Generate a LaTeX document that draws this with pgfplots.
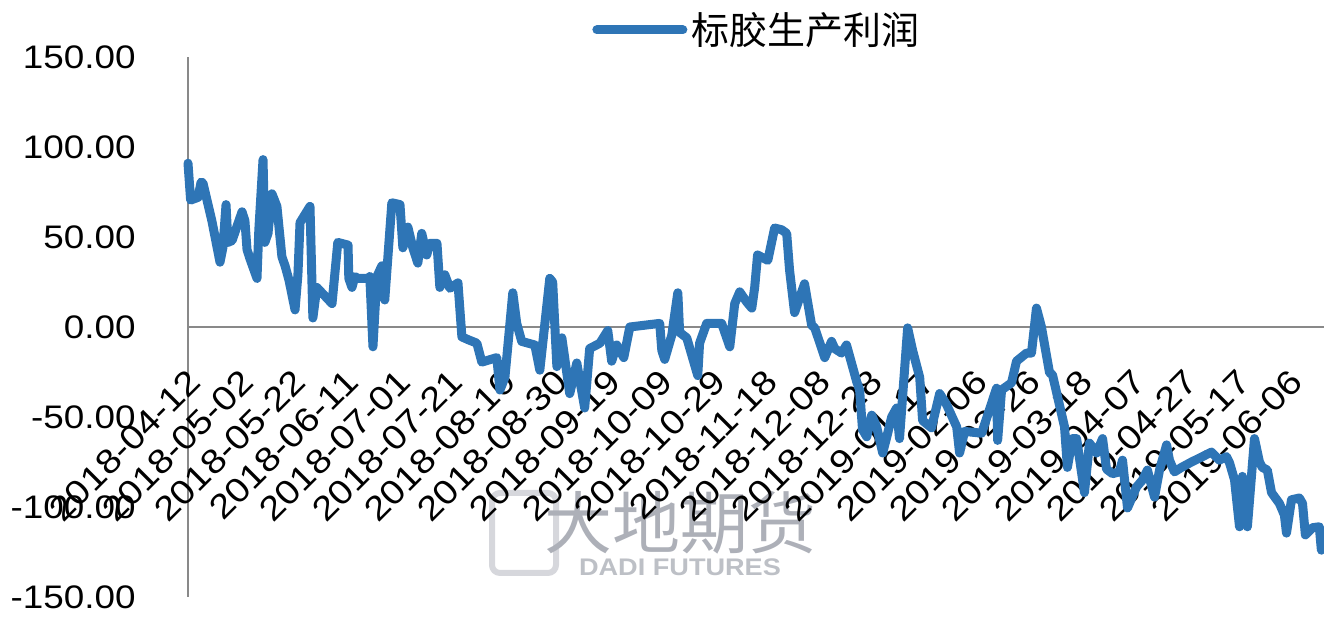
\documentclass[border=0pt]{standalone}
\usepackage{pgfplots}
\pgfplotsset{compat=1.18}
\usepackage{fontspec}
\setmainfont{Liberation Sans}[FakeStretch=1.13]
\newfontfamily\cjk{Noto Sans CJK SC}
\definecolor{profit}{HTML}{2E75B6}
\definecolor{axgray}{HTML}{898989}
\definecolor{wmark}{HTML}{ADB0B8}

\begin{document}
\begin{tikzpicture}
% faint watermark behind the plot
\draw[wmark!50, line width=3pt, rounded corners=4pt] (152pt,12pt) rectangle (184pt,52pt);
\node[text=wmark, font=\cjk\fontsize{34}{34}\selectfont] at (246pt,37pt) {大地期货};
\node[text=wmark!80, font=\bfseries\fontsize{12}{12}\selectfont] at (246pt,15pt) {DADI FUTURES};

\begin{axis}[
  at={(0pt,0pt)}, anchor=south west,
  scale only axis, width=568pt, height=270pt,
  xmin=0, xmax=433, ymin=-150, ymax=150,
  axis x line*=middle, axis y line*=left,
  hide obscured x ticks=false, hide obscured y ticks=false,
  axis line style={draw=axgray, line width=1.3pt},
  major tick length=0pt, tick style={draw=none},
  xtick={0,20,...,420},
  xticklabels={2018-04-12,2018-05-02,2018-05-22,2018-06-11,2018-07-01,2018-07-21,
    2018-08-10,2018-08-30,2018-09-19,2018-10-09,2018-10-29,2018-11-18,2018-12-08,
    2018-12-28,2019-01-17,2019-02-06,2019-02-26,2019-03-18,2019-04-07,2019-04-27,
    2019-05-17,2019-06-06},
  ytick={-150,-100,-50,0,50,100,150},
  yticklabels={-150.00,-100.00,-50.00,0.00,50.00,100.00,150.00},
  ticklabel style={font=\fontsize{16.3}{18}\selectfont},
  xticklabel style={yshift=-20pt, xshift=-1pt, rotate=45, anchor=north east,
    inner sep=0pt, font=\fontsize{17}{19}\selectfont},
  yticklabel style={anchor=east, inner sep=0pt, xshift=-26pt},
  clip=false,
  legend style={at={(0.3556,1.05)}, anchor=west, draw=none, fill=none,
    inner sep=0pt, font=\cjk\fontsize{19}{19}\selectfont},
  legend image code/.code={\draw[#1, line cap=round] (0pt,0pt) -- (43pt,0pt);},
]
\addplot[color=profit, line width=4.5pt, line join=round, line cap=round, mark=none] coordinates {
(0,91) (1,70.5) (3.8,72) (5,80.5) (5.7,80) (9.1,59) (12.2,36) (13.3,44) (14.5,68)
(15.2,47) (16.8,48) (20.6,64) (21.7,59) (22.5,43) (23.6,38) (26.3,27) (27,54)
(28.6,93) (29.3,47) (30.5,52) (32,74) (33.9,67) (35.8,39) (37,34) (38.5,26)
(39.2,21) (40.8,9.5) (41.9,29) (42.7,58) (46.5,67) (47.6,5) (49.1,22) (54.9,13)
(57.1,47) (61,45.5) (61.3,27) (62.5,22) (63.6,28) (64.8,27) (68.6,27) (69.3,28)
(70.5,-11) (72,28) (73.9,34) (75,15) (77.7,69) (80.8,68) (81.9,44) (83.8,55.5)
(85.7,44) (87.6,35.5) (89.1,52) (91,40) (92.2,46.5) (94.9,46.5) (96,22) (97.9,29)
(99.8,21.5) (102.9,24.5) (104.4,-5.5) (106.7,-7) (110.1,-9) (112,-19.5)
(117.7,-17) (118.9,-35) (120.8,-28) (123.8,19) (125.3,2) (127.2,-8) (132.2,-10)
(134.1,-24) (137.9,27) (139,25) (140.6,-22) (142.5,-6) (145.5,-37) (148.2,-20)
(151.2,-45) (153.1,-12) (157,-9) (160,-2) (161.5,-19) (163.4,-10) (166.1,-17)
(168.4,0) (179.8,2) (180.6,-13) (181.7,-18) (184.4,-4.5) (186.7,19) (187.4,-3)
(190.1,-6) (194.3,-27) (195,-9) (197.7,2) (203.4,2) (206.5,-11) (208.4,13)
(210.3,19.5) (212.9,14) (214.9,10.5) (216,22) (217.1,40) (221,37) (223.6,55)
(226.3,54) (228.2,52) (229.3,31.5) (231.2,8) (235,24) (237.7,1) (238.9,-0.5)
(242.7,-17) (245.3,-8) (246.5,-12) (249.1,-14.5) (251,-10) (254.9,-30.5)
(256,-35) (257.1,-57) (258.7,-61) (260.6,-49) (262.5,-55.5) (264.8,-70)
(266.7,-59) (268.2,-50) (270.1,-45) (271.2,-62) (274.3,-0.5) (276.2,-13)
(278.9,-28) (280,-52) (283.4,-56) (286.5,-37) (289.1,-43) (293,-55.5) (294.1,-70)
(296,-58) (302.5,-59) (308.2,-34) (308.6,-63) (310.1,-35) (313.9,-31) (315.8,-19)
(319.6,-14.5) (321.5,-14.5) (323.4,10.5) (325.3,0) (328.4,-25.5) (329.5,-26.5)
(334.1,-55.5) (335.2,-78) (337.1,-62) (338.7,-62) (341.7,-92) (343.6,-64.5)
(346.3,-70) (348.6,-62) (350.1,-79) (352.4,-81.5) (355,-80.5) (356.2,-74)
(358.1,-100.5) (361.5,-89) (363.8,-85) (365.7,-79.5) (368.4,-94.5) (370.3,-79.5)
(373,-65.5) (374.1,-74) (376,-80.5) (378.7,-78) (382.5,-75) (386.7,-72)
(390.1,-69.5) (393.1,-74) (395.8,-72) (397,-75.5) (398.9,-85) (400.8,-111)
(401.9,-83) (403.8,-111) (406.5,-62) (408.4,-75) (409.5,-78) (411.4,-79.5)
(413,-92) (416,-98) (417.9,-104.5) (418.7,-114.5) (420.6,-96) (423.6,-95)
(424.8,-98) (425.9,-115.5) (428.6,-111.5) (431.2,-111) (432,-124)
};
\addlegendentry{标胶生产利润}
\end{axis}
\pgfresetboundingbox
\useasboundingbox (-94pt,-11pt) rectangle (568pt,298.5pt);
\end{tikzpicture}
\end{document}
